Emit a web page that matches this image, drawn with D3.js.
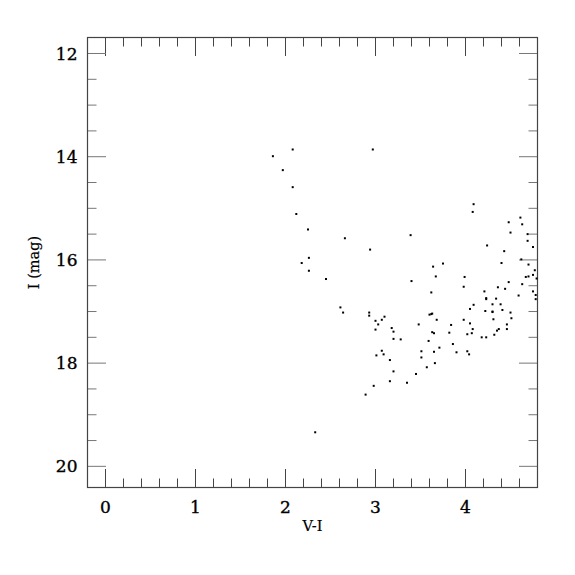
<!DOCTYPE html>
<style>
    body { margin: 0; background: #fff; }
    text { font-family: "DejaVu Serif", "Liberation Serif", serif; fill: #000; }
    .tick-label { font-size: 17px; stroke: #000; stroke-width: 0.35px; }
    .axis-label { font-size: 14.5px; stroke: #000; stroke-width: 0.2px; }
</style>
<svg width="575" height="575"></svg>
<script src="https://d3js.org/d3.v7.min.js"></script>
<script>
    // colour index V-I and I magnitude
    var colorVI = [1.86, 2.08, 2.97, 1.97, 2.08, 2.12, 2.25, 2.66, 3.39, 2.94,
        4.09, 4.08, 4.24, 4.48, 4.50, 4.61, 4.63, 4.69, 4.69, 4.75,
        4.43, 4.40, 4.62, 4.70, 4.77, 4.75, 4.70, 4.67, 4.79, 4.63,
        4.75, 4.78, 4.78, 4.59, 4.48, 4.44, 4.36, 4.21, 4.23, 4.23,
        4.34, 4.30, 4.39, 4.22, 4.30, 4.30, 4.41, 4.50, 4.31, 4.51,
        4.46, 4.46, 4.37, 4.35, 4.32, 4.18, 4.23, 4.09, 4.05, 3.99,
        3.98, 3.98, 4.05, 4.08, 4.02, 4.07, 4.02, 4.04, 3.75, 3.64,
        3.67, 3.62, 3.40, 3.62, 3.63, 3.60, 3.68, 3.48, 3.84, 3.82,
        3.63, 3.65, 3.86, 3.90, 3.59, 3.71, 3.65, 3.51, 3.51, 3.66,
        3.57, 3.45, 3.35, 2.93, 2.93, 3.00, 3.10, 3.07, 3.03, 3.00,
        3.18, 3.20, 3.20, 3.28, 3.01, 3.07, 3.09, 3.16, 3.20, 3.16,
        2.98, 2.89, 2.33, 2.18, 2.26, 2.26, 2.45, 2.61, 2.64];
    var magI = [13.99, 13.86, 13.86, 14.26, 14.59, 15.11, 15.41, 15.58, 15.52, 15.80,
        14.92, 15.07, 15.72, 15.27, 15.47, 15.18, 15.31, 15.50, 15.63, 15.75,
        15.83, 16.06, 15.99, 16.09, 16.20, 16.29, 16.32, 16.33, 16.36, 16.47,
        16.61, 16.68, 16.76, 16.69, 16.43, 16.56, 16.53, 16.61, 16.74, 16.76,
        16.75, 16.86, 16.86, 16.99, 17.00, 17.01, 16.97, 17.02, 17.15, 17.13,
        17.25, 17.34, 17.34, 17.37, 17.45, 17.50, 17.50, 16.87, 16.95, 16.33,
        16.52, 17.16, 17.23, 17.34, 17.44, 17.42, 17.77, 17.83, 16.07, 16.13,
        16.32, 16.63, 16.41, 17.05, 17.04, 17.06, 17.16, 17.25, 17.26, 17.41,
        17.40, 17.42, 17.63, 17.79, 17.57, 17.70, 17.78, 17.77, 17.89, 18.00,
        18.08, 18.21, 18.38, 17.02, 17.08, 17.18, 17.10, 17.16, 17.25, 17.35,
        17.32, 17.39, 17.53, 17.54, 17.85, 17.76, 17.83, 17.94, 18.16, 18.35,
        18.44, 18.61, 19.34, 16.06, 15.96, 16.21, 16.37, 16.92, 17.02];

    var xMajor = [0, 1, 2, 3, 4];
    var yMajor = [12, 14, 16, 18, 20];

    var svg = d3.select('svg'),
        pL = 87.5, pR = 537.5, pT = 37.5, pB = 487.5;

    var x = d3.scaleLinear().domain([-0.2, 4.8]).range([pL, pR]);
    var y = d3.scaleLinear().domain([11.69, 20.41]).range([pT, pB]);

    var xMinor = d3.range(-0.2, 4.81, 0.2).map(function(d) { return +d.toFixed(1); });
    var yMinor = d3.range(12, 20.01, 0.5);

    function isMajorX(d) { return Math.abs(d - Math.round(d)) < 1e-6; }
    function isMajorY(d) { return Math.abs(d / 2 - Math.round(d / 2)) < 1e-6; }

    var g = svg.append('g');

    // x ticks bottom and top
    [[pB, -1], [pT, 1]].forEach(function(s) {
        g.selectAll(null).data(xMinor.filter(function(d) { return d > -0.15 && d < 4.75; }))
            .enter().append('line')
            .attr('x1', function(d) { return x(d); })
            .attr('x2', function(d) { return x(d); })
            .attr('y1', s[0])
            .attr('y2', function(d) { return s[0] + s[1] * (isMajorX(d) ? 18.5 : 9); })
            .attr('stroke', '#444').attr('stroke-width', 1);
    });

    // y ticks left and right
    [[pL, 1], [pR, -1]].forEach(function(s) {
        g.selectAll(null).data(yMinor)
            .enter().append('line')
            .attr('y1', function(d) { return y(d); })
            .attr('y2', function(d) { return y(d); })
            .attr('x1', s[0])
            .attr('x2', function(d) { return s[0] + s[1] * (isMajorY(d) ? 18.5 : 9); })
            .attr('stroke', '#777').attr('stroke-width', 1);
    });

    // frame
    g.append('rect')
        .attr('x', pL).attr('y', pT)
        .attr('width', pR - pL).attr('height', pB - pT)
        .attr('fill', 'none').attr('stroke', '#444').attr('stroke-width', 1.2);

    // tick labels
    g.selectAll(null).data(xMajor).enter().append('text')
        .attr('class', 'tick-label')
        .attr('x', function(d) { return x(d); })
        .attr('y', 513)
        .attr('text-anchor', 'middle')
        .text(function(d) { return d; });

    g.selectAll(null).data(yMajor).enter().append('text')
        .attr('class', 'tick-label')
        .attr('x', 77.5)
        .attr('y', function(d) { return y(d); })
        .attr('dy', '0.36em')
        .attr('text-anchor', 'end')
        .text(function(d) { return d; });

    // axis titles
    svg.append('text')
        .attr('class', 'axis-label')
        .attr('x', (pL + pR) / 2)
        .attr('y', 531)
        .attr('text-anchor', 'middle')
        .text('V-I');

    svg.append('text')
        .attr('class', 'axis-label')
        .attr('transform', 'translate(39,' + ((pT + pB) / 2) + ') rotate(-90)')
        .attr('text-anchor', 'middle')
        .text('I (mag)');

    // points
    var pts = colorVI.map(function(d, i) { return [d, magI[i]]; });
    svg.append('g').selectAll('rect').data(pts).enter().append('rect')
        .attr('x', function(d) { return x(d[0]) - 1; })
        .attr('y', function(d) { return y(d[1]) - 1; })
        .attr('width', 2).attr('height', 2)
        .attr('fill', '#000');
</script>
